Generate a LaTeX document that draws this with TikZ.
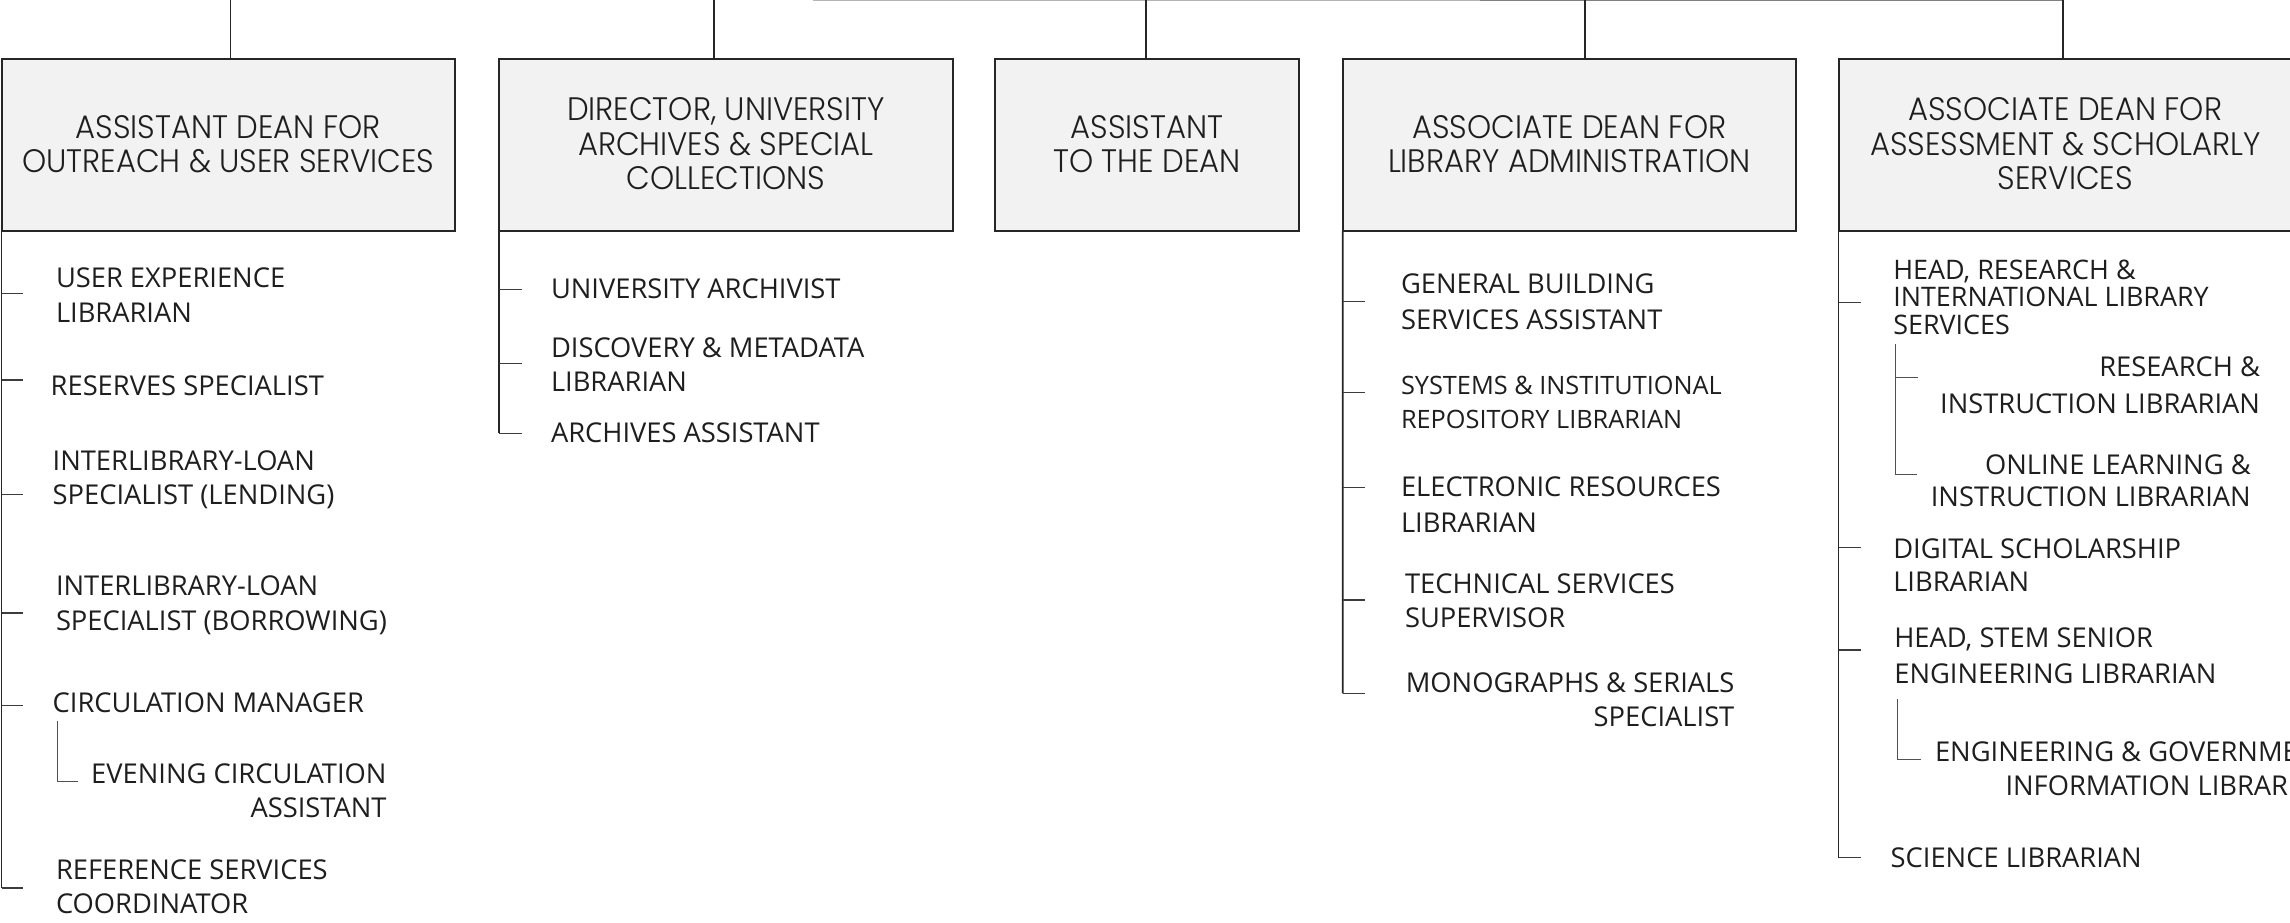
\documentclass[tikz,border=0pt]{standalone}
\usepackage{fontspec}
\IfFontExistsTF{Poppins Light}{\newfontfamily\boxfont[FakeStretch=0.945]{Poppins Light}}{\newfontfamily\boxfont[FakeStretch=0.945]{Poppins}}
\newfontfamily\kidfont{Open Sans}
\definecolor{boxfill}{HTML}{F2F2F2}
\definecolor{ink}{HTML}{1E1E1E}
\definecolor{linec}{HTML}{262626}
\definecolor{topline}{HTML}{B4B4B4}
\newcommand\boxC[1]{\vbox{\kern7pt\hbox{\begin{tabular}{@{}c@{}}#1\end{tabular}}}}
\newcommand\kidL[1]{\begin{tabular}[t]{@{}l@{}}#1\end{tabular}}
\newcommand\kidR[1]{\begin{tabular}[t]{@{}r@{}}#1\end{tabular}}
\tikzset{
  orgbox/.style={draw=linec, line width=2pt, fill=boxfill, minimum height=172.3pt,
    inner sep=0pt, outer sep=0pt, text=ink, font=\boxfont\fontsize{32.5}{34.5}\selectfont},
  kid/.style={inner sep=0pt, outer sep=0pt, anchor=base west, text=ink,
    font=\kidfont\fontsize{27.3}{#1}\selectfont},
  kid/.default=34.5,
  kidr/.style={kid=#1, anchor=base east},
  kidr/.default=34.5,
  trunk/.style={draw=linec, line width=1.8pt},
  tick/.style={draw=linec!90!white, line width=1.3pt},
  subbr/.style={draw=linec!80!white, line width=1pt},
  feed/.style={draw=linec, line width=1.4pt},
}
\begin{document}
\begin{tikzpicture}[x=1pt,y=-1pt]
\useasboundingbox (0,0) rectangle (2290,922);
\fill[white] (0,0) rectangle (2290,922);
\clip (0,0) rectangle (2290,922);

% boxes
\node[orgbox, minimum width=453.5pt] (b1) at (228.25,144.85) {\boxC{ASSISTANT DEAN FOR\\OUTREACH \& USER SERVICES}};
\node[orgbox, minimum width=454pt] (b2) at (726,144.85) {\boxC{DIRECTOR, UNIVERSITY\\ARCHIVES \& SPECIAL\\COLLECTIONS}};
\node[orgbox, minimum width=304pt] (b3) at (1147,144.85) {\boxC{ASSISTANT\\TO THE DEAN}};
\node[orgbox, minimum width=453.3pt] (b4) at (1569.35,144.85) {\boxC{ASSOCIATE DEAN FOR\\LIBRARY ADMINISTRATION}};
\node[orgbox, minimum width=453.5pt] (b5) at (2065.25,144.85) {\boxC{ASSOCIATE DEAN FOR\\ASSESSMENT \& SCHOLARLY\\SERVICES}};

% top feed lines
\coordinate (hl) at (813,0.4);
\coordinate (hm) at (1480,0.4);
\coordinate (hr) at (2063,0.4);
\draw[draw=topline, line width=1.2pt] (hl) -- (hm);
\draw[draw=gray, line width=1.2pt] (hm) -- (hr);
\coordinate (f1) at (230.7,0);
\coordinate (f2) at (714,0);
\coordinate (f3) at (1146,0);
\coordinate (f4) at (1585,0);
\coordinate (f5) at (2063,0);
\foreach \f/\b in {f1/b1,f2/b2,f3/b3,f4/b4,f5/b5} \draw[feed] (\f) -- (\f |- \b.north);

% column 1
\coordinate (t1a) at (1.5,293.5);
\coordinate (t1b) at (1.5,380);
\coordinate (t1c) at (1.5,494.5);
\coordinate (t1d) at (1.5,613);
\coordinate (t1e) at (1.5,705.5);
\coordinate (t1f) at (1.5,888);
\draw[trunk] (b1.south west) -- (t1f);
\foreach \c in {t1a,t1b,t1c,t1d,t1e,t1f} \draw[tick] (\c) -- ++(21.5,0);
\node[kid=35] (k1a) at (56,287) {\kidL{USER EXPERIENCE\\LIBRARIAN}};
\node[kid] (k1b) at (50.7,395) {\kidL{RESERVES SPECIALIST}};
\node[kid=34] (k1c) at (52.7,470.5) {\kidL{INTERLIBRARY-LOAN\\SPECIALIST (LENDING)}};
\node[kid=34.2] (k1d) at (56,595.8) {\kidL{INTERLIBRARY-LOAN\\SPECIALIST (BORROWING)}};
\node[kid] (k1e) at (52.7,712) {\kidL{CIRCULATION MANAGER}};
\coordinate (s1a) at (57.3,720.6);
\coordinate (s1b) at (78.3,781.5);
\draw[subbr] (s1a) |- (s1b);
\node[kidr=34] (k1f) at (386.5,783.7) {\kidR{EVENING CIRCULATION\\ASSISTANT}};
\node[kid=33.6] (k1g) at (56,879.4) {\kidL{REFERENCE SERVICES\\COORDINATOR}};

% column 2
\coordinate (t2a) at (499,289.3);
\coordinate (t2b) at (499,363.3);
\coordinate (t2c) at (499,433.3);
\draw[trunk] (b2.south west) -- (t2c);
\foreach \c in {t2a,t2b,t2c} \draw[tick] (\c) -- ++(23.3,0);
\node[kid] (k2a) at (551,298.3) {\kidL{UNIVERSITY ARCHIVIST}};
\node[kid=34.4] (k2b) at (551,357.3) {\kidL{DISCOVERY \& METADATA\\LIBRARIAN}};
\node[kid] (k2c) at (551,442.7) {\kidL{ARCHIVES ASSISTANT}};

% column 4
\coordinate (t4a) at (1342.7,301.7);
\coordinate (t4b) at (1342.7,392.7);
\coordinate (t4c) at (1342.7,487.3);
\coordinate (t4d) at (1342.7,600);
\coordinate (t4e) at (1342.7,693.3);
\draw[trunk] (b4.south west) -- (t4e);
\foreach \c in {t4a,t4b,t4c,t4d,t4e} \draw[tick] (\c) -- ++(22.3,0);
\node[kid=36] (k4a) at (1401,293.3) {\kidL{GENERAL BUILDING\\SERVICES ASSISTANT}};
\node[kid, font=\kidfont\fontsize{25.3}{34.3}\selectfont] (k4b) at (1401,394) {\kidL{SYSTEMS \& INSTITUTIONAL\\REPOSITORY LIBRARIAN}};
\node[kid=35.6] (k4c) at (1401,496.7) {\kidL{ELECTRONIC RESOURCES\\LIBRARIAN}};
\node[kid=34.4] (k4d) at (1405,593.3) {\kidL{TECHNICAL SERVICES\\SUPERVISOR}};
\node[kidr=34.4] (k4e) at (1734.3,692.3) {\kidR{MONOGRAPHS \& SERIALS\\SPECIALIST}};

% column 5
\coordinate (t5a) at (1838.5,302.7);
\coordinate (t5b) at (1838.5,547.3);
\coordinate (t5c) at (1838.5,650);
\coordinate (t5d) at (1838.5,857.7);
\draw[trunk] (b5.south west) -- (t5d);
\foreach \c in {t5a,t5b,t5c,t5d} \draw[tick] (\c) -- ++(22.2,0);
\node[kid, font=\kidfont\fontsize{26.9}{27.2}\selectfont] (k5a) at (1893.3,279.3) {\kidL{HEAD, RESEARCH \&\\INTERNATIONAL LIBRARY\\SERVICES}};
\coordinate (s5a) at (1895.3,344);
\coordinate (s5b) at (1916.7,474.3);
\coordinate (s5t) at (1895.3,377.3);
\draw[subbr] (s5a) |- (s5b);
\draw[subbr] (s5t) -- ++(23,0);
\node[kidr=36.7] (k5b) at (2260,376.7) {\kidR{RESEARCH \&\\INSTRUCTION LIBRARIAN}};
\node[kidr=32.4] (k5c) at (2250.7,474.3) {\kidR{ONLINE LEARNING \&\\INSTRUCTION LIBRARIAN}};
\node[kid=33.4] (k5d) at (1893.3,558.3) {\kidL{DIGITAL SCHOLARSHIP\\LIBRARIAN}};
\node[kid=35.6] (k5e) at (1894.3,647.7) {\kidL{HEAD, STEM SENIOR\\ENGINEERING LIBRARIAN}};
\coordinate (s5c) at (1897.7,699.3);
\coordinate (s5d) at (1920.7,759.3);
\draw[subbr] (s5c) |- (s5d);
\node[kid=33.3] (k5f) at (1935,761.7) {\kidR{ENGINEERING \& GOVERNMENT\\INFORMATION LIBRARIAN}};
\node[kid] (k5g) at (1890.7,867.7) {\kidL{SCIENCE LIBRARIAN}};
\end{tikzpicture}
\end{document}
